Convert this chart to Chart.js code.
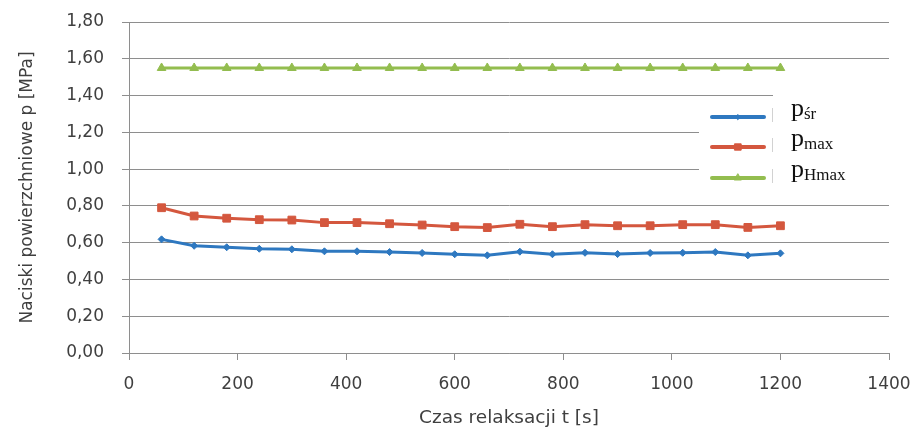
<!DOCTYPE html>
<html>
<head>
<meta charset="utf-8">
<script src="https://cdn.jsdelivr.net/npm/chart.js@4.4.1/dist/chart.umd.min.js"></script>
<style>
  html, body { margin: 0; padding: 0; background: #fff; }
  #wrap { width: 919px; height: 439px; }
</style>
</head>
<body>
<div id="wrap"><canvas id="myChart" width="919" height="439"></canvas></div>
<script>
'use strict';
// data

const czas = [60, 120, 180, 240, 300, 360, 420, 480, 540, 600, 660, 720, 780, 840, 900, 960, 1020, 1080, 1140, 1200];
const pSr = [0.618, 0.583, 0.575, 0.567, 0.564, 0.553, 0.553, 0.549, 0.544, 0.537, 0.531, 0.551, 0.537, 0.545, 0.538, 0.544, 0.545, 0.549, 0.531, 0.542];
const pMax = [0.79, 0.745, 0.733, 0.725, 0.723, 0.709, 0.709, 0.703, 0.696, 0.687, 0.682, 0.70, 0.687, 0.698, 0.692, 0.692, 0.698, 0.698, 0.683, 0.692];
const pHmax = [1.55, 1.55, 1.55, 1.55, 1.55, 1.55, 1.55, 1.55, 1.55, 1.55, 1.55, 1.55, 1.55, 1.55, 1.55, 1.55, 1.55, 1.55, 1.55, 1.55];

const seriesMain = ['p', 'p', 'p'];
const seriesSub = ['śr', 'max', 'Hmax'];
const seriesColors = ['#2e78c0', '#d4573e', '#93bd4f'];

const gridGray = '#8e8e8e';
const tickGray = '#3f3f3f';

function toPoints(values){
  let pts = [];
  for (let i = 0; i < czas.length; i++){
    pts.push({x: czas[i], y: values[i]});
  }
  return pts;
}

// legend with subscripts, drawn by hand
const legendBox = {
  id: 'legendBox',
  afterDraw(chart){
    const ctx = chart.ctx;
    ctx.save();
    ctx.fillStyle = '#fff';
    ctx.fillRect(699, 97, 190, 89);
    ctx.fillRect(773, 91, 116, 10);
    const rows = [117, 147, 178];
    for (let i = 0; i < rows.length; i++){
      const ds = chart.data.datasets[i];
      const y = rows[i];
      ctx.strokeStyle = ds.borderColor;
      ctx.fillStyle = ds.borderColor;
      ctx.lineWidth = 4;
      ctx.lineCap = 'round';
      ctx.beginPath();
      ctx.moveTo(712, y);
      ctx.lineTo(764, y);
      ctx.stroke();
      ctx.lineWidth = 1;
      Chart.helpers.drawPoint(ctx, {
        pointStyle: ds.pointStyle,
        radius: ds.pointRadius - 1,
        rotation: 0,
        borderWidth: 1
      }, 738, y);
      // faint separator marks like the original box
      ctx.fillStyle = '#d2d2d2';
      ctx.fillRect(772, y - 9, 1, 14);
      ctx.fillStyle = '#111';
      ctx.textBaseline = 'alphabetic';
      ctx.textAlign = 'left';
      ctx.font = '26px "Liberation Serif"';
      ctx.fillText(seriesMain[i], 791, y - 1);
      const pw = ctx.measureText(seriesMain[i]).width;
      ctx.font = '17px "Liberation Serif"';
      ctx.fillText(seriesSub[i], 791 + pw, y + 2);
    }
    ctx.restore();
  }
};

const data = {
  datasets: [
    {
      label: seriesMain[0] + seriesSub[0],
      data: toPoints(pSr),
      borderColor: seriesColors[0],
      backgroundColor: seriesColors[0],
      borderWidth: 3,
      pointStyle: 'rectRot',
      pointRadius: 3.5,
      pointBorderWidth: 1
    },
    {
      label: seriesMain[1] + seriesSub[1],
      data: toPoints(pMax),
      borderColor: seriesColors[1],
      backgroundColor: seriesColors[1],
      borderWidth: 3,
      pointStyle: 'rect',
      pointRadius: 5.5,
      pointBorderWidth: 1
    },
    {
      label: seriesMain[2] + seriesSub[2],
      data: toPoints(pHmax),
      borderColor: seriesColors[2],
      backgroundColor: seriesColors[2],
      borderWidth: 3,
      pointStyle: 'triangle',
      pointRadius: 5,
      pointBorderWidth: 1
    }
  ]
};

const config = {
  type: 'line',
  data: data,
  options: {
    responsive: false,
    animation: false,
    layout: { padding: { left: 0, top: 22, right: 30, bottom: 0 } },
    plugins: {
      legend: { display: false },
      tooltip: { enabled: false }
    },
    elements: { line: { tension: 0 } },
    scales: {
      x: {
        type: 'linear',
        min: 0,
        max: 1400,
        ticks: {
          stepSize: 200,
          padding: 14,
          color: tickGray,
          font: { family: '"DejaVu Sans"', size: 17 },
          callback: (v) => String(v)
        },
        grid: {
          drawOnChartArea: false,
          drawTicks: true,
          tickLength: 7,
          color: gridGray
        },
        border: { display: true, color: gridGray, width: 1 },
        title: {
          display: true,
          text: 'Czas relaksacji t [s]',
          color: tickGray,
          font: { family: '"DejaVu Sans"', size: 18.5 },
          padding: { top: 0, bottom: 10 }
        },
        afterFit(scale){
          scale.height = 86;
          scale.paddingLeft = 0;
          scale.paddingRight = 0;
        }
      },
      y: {
        min: 0,
        max: 1.8,
        ticks: {
          stepSize: 0.2,
          padding: 18,
          color: tickGray,
          font: { family: '"DejaVu Sans"', size: 17 },
          callback: (v) => v.toFixed(2).replace('.', ',')
        },
        grid: {
          color: gridGray,
          tickLength: 7,
          lineWidth: 1
        },
        border: { display: true, color: gridGray, width: 1 },
        title: {
          display: true,
          text: 'Naciski powierzchniowe p [MPa]',
          color: tickGray,
          font: { family: '"DejaVu Sans"', size: 17 },
          padding: { top: 17, bottom: 0 }
        },
        afterFit(scale){
          scale.width = 129;
          scale.paddingTop = 0;
          scale.paddingBottom = 0;
        }
      }
    }
  },
  plugins: [legendBox]
};

const chart = document.getElementById('myChart');
const myChart = new Chart(chart, config);
</script>
</body>
</html>
